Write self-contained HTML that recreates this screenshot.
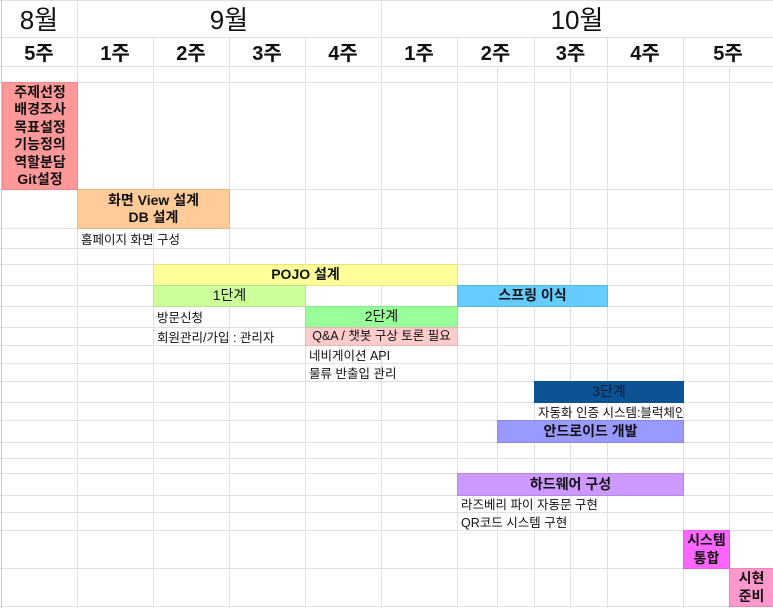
<!DOCTYPE html>
<html><head><meta charset="utf-8">
<style>
html,body{margin:0;padding:0;background:#fff;}
#sheet{position:relative;width:773px;height:608px;overflow:hidden;background:#fff;font-family:"Liberation Sans","Noto Sans CJK KR",sans-serif;color:#111;}
.vl{position:absolute;width:1px;background:#e0e0e0;}
.hl{position:absolute;height:1px;background:#e0e0e0;left:0;width:773px;}
.hdr{position:absolute;display:flex;align-items:center;justify-content:center;}
.bar{position:absolute;box-sizing:border-box;display:flex;align-items:center;justify-content:center;text-align:center;font-size:14px;line-height:17.5px;overflow:hidden;white-space:nowrap;}
.note{position:absolute;font-size:12.5px;display:flex;align-items:center;white-space:nowrap;overflow:hidden;}
</style></head>
<body>
<div id="sheet"></div>
<script>
const cols=[1,77,153,229,305,381,457,497,534,570,607,683,729,773];
const rows=[0,37,66,82,189,228,248,264,285,306,327,345,363,381,402,420,442,458,473,495,512,530,568,606];
const months=["8월","9월","10월"];
const monthSpans=[[1,77],[77,381],[381,773]];
const weeks=["5주","1주","2주","3주","4주","1주","2주","3주","4주","5주"];
const weekSpans=[[1,77],[77,153],[153,229],[229,305],[305,381],[381,457],[457,534],[534,607],[607,683],[683,773]];
// tasks: [label, x0, x1, rowStart, rowEnd, color, border, bold, textColor, fontSize]
const tasks=[
 ["주제선정<br>배경조사<br>목표설정<br>기능정의<br>역할분담<br>Git설정",2,77,82,189,"#ff9999","#e88",1,"#111",14],
 ["화면 View 설계<br>DB 설계",77,229,189,228,"#ffcc99","#e8b488",1,"#111",14],
 ["POJO 설계",153,457,264,285,"#ffff99","#e6e680",1,"#111",14],
 ["1단계",153,305,285,306,"#ccff99","#b4e68a",0,"#111",14],
 ["스프링 이식",457,607,285,306,"#66ccff","#5ab4e6",1,"#111",14],
 ["2단계",305,457,306,327,"#99ff99","#88e688",0,"#111",14],
 ["Q&amp;A / 챗봇 구상 토론 필요",305,457,327,345,"#ffcccc","#eab4b4",0,"#111",12.5],
 ["3단계",534,683,381,402,"#0b5394","#0b5394",0,"#0a1a33",14],
 ["안드로이드 개발",497,683,420,442,"#9999ff","#8888e6",1,"#111",14],
 ["하드웨어 구성",457,683,473,495,"#cc99ff","#b488e6",1,"#111",14],
 ["시스템<br>통합",683,729,530,568,"#ff66ff","#e65ae6",1,"#111",14],
 ["시현<br>준비",729,773,568,606,"#ff99cc","#e688b4",1,"#111",14]
];
// notes: [text, x0, x1, rowStart, rowEnd]
const notes=[
 ["홈페이지 화면 구성",77,305,228,248],
 ["방문신청",153,305,306,327],
 ["회원관리/가입 : 관리자",153,305,327,345],
 ["네비게이션 API",305,457,345,363],
 ["물류 반출입 관리",305,457,363,381],
 ["자동화 인증 시스템:블럭체인",534,683,402,420],
 ["라즈베리 파이 자동문 구현",457,683,495,512],
 ["QR코드 시스템 구현",457,683,512,530]
];
const sheet=document.getElementById('sheet');
function mk(cls,st){const d=document.createElement('div');d.className=cls;Object.assign(d.style,st);sheet.appendChild(d);return d;}
rows.forEach(y=>{const d=mk('hl',{top:y+'px'});

});
cols.forEach(x=>{
  let top=0;
  if([153,229,305,457,534,607,683].includes(x)) top=37;
  if([497,570,729].includes(x)) top=66;
  if(x===773) return;
  const d=mk('vl',{left:x+'px',top:top+'px',height:(608-top)+'px'});
  if(x===1) d.style.background='#c8c8c8';
  
  
});
months.forEach((m,i)=>{const s=monthSpans[i];
 const d=mk('hdr',{left:s[0]+'px',width:(s[1]-s[0])+'px',top:'0px',height:'37px',fontSize:'26px'});d.textContent=m;
 
 });
weeks.forEach((w,i)=>{const s=weekSpans[i];
 const d=mk('hdr',{left:s[0]+'px',width:(s[1]-s[0])+'px',top:'37px',height:'29px',fontSize:'20px',fontWeight:'bold'});d.textContent=w;
 
 });
tasks.forEach(t=>{
 const d=mk('bar',{left:t[1]+'px',width:(t[2]-t[1]+1)+'px',top:t[3]+'px',height:(t[4]-t[3]+1)+'px',background:t[5],border:'1px solid '+t[6],fontWeight:t[7]?'bold':'normal',color:t[8],fontSize:t[9]+'px'});
 d.innerHTML=t[0];
 
 
});
notes.forEach(n=>{
 const d=mk('note',{left:(n[1]+4)+'px',width:(n[2]-n[1]-4)+'px',top:n[3]+'px',height:(n[4]-n[3])+'px'});
 d.textContent=n[0];
 
 
});
</script>
</body></html>
